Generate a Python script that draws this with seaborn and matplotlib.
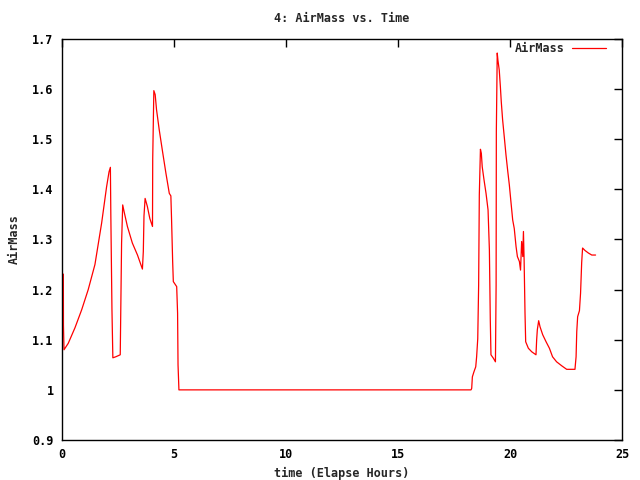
import matplotlib
matplotlib.use("Agg")
import matplotlib.pyplot as plt
import seaborn as sns
import pandas as pd

time_hours = [0.06, 0.065, 0.09, 0.28, 0.58, 0.88, 1.17, 1.47, 1.77, 1.99, 2.10, 2.16, 2.18, 2.23, 2.27,
              2.40, 2.60, 2.62, 2.66, 2.71, 2.77, 2.92, 3.14, 3.37, 3.59, 3.63, 3.66, 3.71, 3.81, 3.92,
              4.04, 4.05, 4.10, 4.16, 4.22, 4.34, 4.49, 4.64, 4.79, 4.86, 4.89, 4.94, 4.97, 5.12, 5.16,
              5.18, 5.22, 18.26, 18.29, 18.32, 18.39, 18.47, 18.51, 18.56, 18.60, 18.63, 18.68, 18.72,
              18.76, 18.84, 18.93, 19.02, 19.08, 19.12, 19.15, 19.26, 19.35, 19.38, 19.39, 19.43, 19.46,
              19.52, 19.57, 19.61, 19.67, 19.75, 19.82, 19.90, 19.97, 20.04, 20.12, 20.19, 20.27, 20.33,
              20.42, 20.47, 20.52, 20.57, 20.60, 20.63, 20.67, 20.70, 20.82, 20.97, 21.16, 21.19, 21.22,
              21.28, 21.34, 21.46, 21.61, 21.76, 21.90, 22.08, 22.31, 22.53, 22.90, 22.95, 22.98, 23.02,
              23.10, 23.15, 23.20, 23.24, 23.35, 23.50, 23.65, 23.82]
airmass = [1.231, 1.129, 1.080, 1.093, 1.124, 1.160, 1.200, 1.250, 1.333, 1.405, 1.435, 1.444, 1.349, 1.160, 1.064,
           1.066, 1.070, 1.144, 1.293, 1.369, 1.356, 1.326, 1.293, 1.269, 1.241, 1.276, 1.347, 1.382, 1.366, 1.342,
           1.326, 1.461, 1.597, 1.589, 1.559, 1.519, 1.475, 1.432, 1.392, 1.387, 1.342, 1.256, 1.216, 1.206, 1.153,
           1.050, 1.000, 1.000, 1.003, 1.026, 1.036, 1.046, 1.066, 1.102, 1.209, 1.389, 1.480, 1.472,
           1.445, 1.419, 1.392, 1.359, 1.279, 1.140, 1.070, 1.063, 1.056, 1.209, 1.515, 1.672, 1.658,
           1.638, 1.605, 1.575, 1.539, 1.502, 1.469, 1.436, 1.409, 1.376, 1.339, 1.322, 1.286, 1.266,
           1.256, 1.239, 1.296, 1.266, 1.316, 1.259, 1.153, 1.096, 1.083, 1.076, 1.070, 1.100, 1.120,
           1.138, 1.126, 1.110, 1.096, 1.083, 1.066, 1.056, 1.048, 1.041, 1.041, 1.066, 1.116, 1.146,
           1.158, 1.193, 1.254, 1.283, 1.278, 1.273, 1.269, 1.269]

x_ticks = [0, 5, 10, 15, 20, 25]
y_ticks = [0.9, 1.0, 1.1, 1.2, 1.3, 1.4, 1.5, 1.6, 1.7]
y_tick_labels = ["0.9", "1", "1.1", "1.2", "1.3", "1.4", "1.5", "1.6", "1.7"]

df = pd.DataFrame({"time": time_hours, "AirMass": airmass})

sns.set_style("white")
plt.rcParams["font.family"] = ["DejaVu Sans Mono"]
plt.rcParams["font.weight"] = "bold"

fig = plt.figure(figsize=(6.4, 4.8), dpi=100)
ax = fig.add_axes([62 / 640, 1 - 440 / 480, 560 / 640, 401 / 480])

sns.lineplot(data=df, x="time", y="AirMass", estimator=None, sort=False,
             color="#ff0000", linewidth=0.9, ax=ax, label="AirMass")

ax.set_xlim(0, 25)
ax.set_ylim(0.9, 1.7)
ax.set_xticks(x_ticks)
ax.set_xticklabels([str(t) for t in x_ticks])
ax.set_yticks(y_ticks)
ax.set_yticklabels(y_tick_labels)
ax.tick_params(axis="both", direction="in", length=6, width=1, top=True, right=True,
               labelsize=8.5, colors="black")
ax.tick_params(axis="x", pad=6)
ax.tick_params(axis="y", pad=6)
for s in ax.spines.values():
    s.set_visible(True)
    s.set_color("black")
    s.set_linewidth(1)

ax.set_title("4: AirMass vs. Time", fontsize=8.5, fontweight="bold", pad=12)
ax.set_xlabel("time (Elapse Hours)", fontsize=8.5, fontweight="bold", labelpad=4)
ax.set_ylabel("AirMass", fontsize=8.5, fontweight="bold", labelpad=8)

leg = ax.legend(loc="upper right", bbox_to_anchor=(544 / 560, 398 / 401), frameon=False,
                markerfirst=False, fontsize=8.5, handlelength=2.9, borderaxespad=0,
                borderpad=0, handletextpad=0.6)

fig.savefig("out.png", dpi=100)
